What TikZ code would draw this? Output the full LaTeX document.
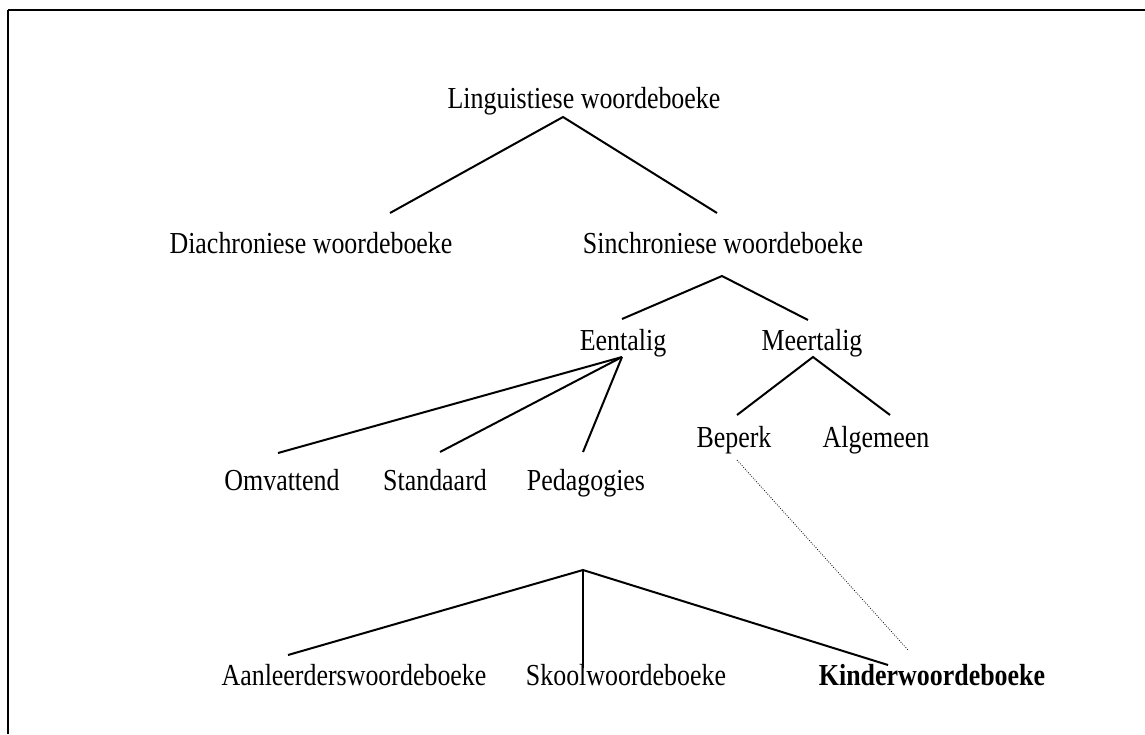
\documentclass[tikz,border=0pt]{standalone}
\usepackage{fontspec}
\setmainfont{Liberation Serif}[FakeStretch=0.85]
\begin{document}
\begin{tikzpicture}[x=1pt,y=-1pt,
  lbl/.style={anchor=base,inner sep=0pt,font=\fontsize{30.5}{31}\selectfont},
  edge/.style={line width=2pt},
  dotedge/.style={line width=0.8pt,dash pattern=on 0.8pt off 1.6pt},
  frame/.style={line width=1.8pt}]
\useasboundingbox (0,0) rectangle (1145,734);
% frame
\coordinate (fTL) at (8,10);
\coordinate (fTR) at (1145,10);
\coordinate (fBL) at (8,734);
\draw[frame] (fTR) -- (fTL);
\draw[line width=1.2pt] (fTL) -- (fBL);
% nodes
\node[lbl] (ling) at (584,108) {Linguistiese woordeboeke};
\node[lbl] (dia) at (311,253) {Diachroniese woordeboeke};
\node[lbl] (sin) at (723,253) {Sinchroniese woordeboeke};
\node[lbl] (een) at (623,350) {Eentalig};
\node[lbl] (meer) at (812,350) {Meertalig};
\node[lbl] (bep) at (734,447) {Beperk};
\node[lbl] (alg) at (876,447) {Algemeen};
\node[lbl] (omv) at (282,490) {Omvattend};
\node[lbl] (sta) at (435,490) {Standaard};
\node[lbl] (ped) at (586,490) {Pedagogies};
\node[lbl] (aan) at (354,685) {Aanleerderswoordeboeke};
\node[lbl] (sko) at (626,685) {Skoolwoordeboeke};
\node[lbl,font=\fontsize{30.5}{31}\selectfont\bfseries] (kin) at (932,685) {Kinderwoordeboeke};
% connector points
\coordinate (lingA) at (563,117);
\coordinate (diaE) at (390,213);
\coordinate (sinE) at (717,213);
\coordinate (sinA) at (722,276);
\coordinate (eenE) at (622,319);
\coordinate (meerE) at (808,320);
\coordinate (eenA) at (622,357);
\coordinate (omvE) at (278,453);
\coordinate (staE) at (440,452);
\coordinate (pedE) at (583,452);
\coordinate (meerA) at (813,357);
\coordinate (bepE) at (737,415);
\coordinate (algE) at (890,415);
\coordinate (bepB) at (737,460);
\coordinate (kinT) at (908,650);
\coordinate (pedA) at (583,570);
\coordinate (aanE) at (288,655);
\coordinate (skoE) at (583,668);
\coordinate (kinE) at (888,665);
% connectors
\draw[edge] (diaE) -- (lingA) -- (sinE);
\draw[edge] (eenE) -- (sinA) -- (meerE);
\draw[edge] (omvE) -- (eenA);
\draw[edge] (staE) -- (eenA);
\draw[edge] (pedE) -- (eenA);
\draw[edge] (bepE) -- (meerA) -- (algE);
\draw[edge] (aanE) -- (pedA) -- (kinE);
\draw[edge,line width=1.5pt] (pedA) -- (skoE);
\draw[dotedge] (bepB) -- (kinT);
\end{tikzpicture}
\end{document}
